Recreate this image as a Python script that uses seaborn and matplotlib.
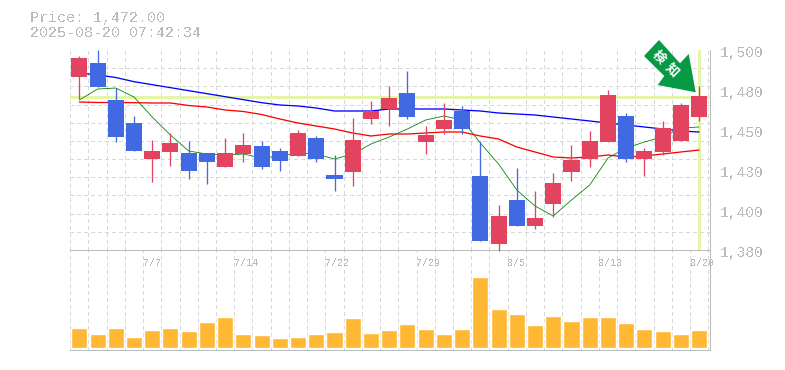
import matplotlib
matplotlib.use("Agg")
import matplotlib.pyplot as plt
import matplotlib.transforms as mtrans
from matplotlib.patches import Polygon
import numpy as np
import pandas as pd
import seaborn as sns

opens = [1483.8,1492.2,1470,1456.2,1434.6,1438.8,1438.2,1438.2,1429.8,1437.6,1442.4,1439.4,1436.4,1447.2,1425,1426.8,1458.6,1464.6,1474.2,1444.8,1452.6,1463.4,1424.4,1383.6,1410,1394.4,1407.6,1426.8,1434.6,1444.8,1460.4,1434.6,1438.8,1445.4,1459.8]
closes = [1495.2,1477.8,1447.8,1439.4,1439.4,1444.2,1427.4,1432.8,1438.2,1443,1429.8,1433.4,1450.2,1434.6,1422.6,1446,1463.4,1471.2,1459.8,1449,1458,1452.6,1385.4,1400.4,1394.4,1399.2,1420.2,1434,1445.4,1473,1434.6,1439.4,1453.2,1467,1472.4]
highs = [1496.4,1500,1477.2,1460.4,1446,1450.2,1445.4,1438.2,1447.2,1450.2,1445.4,1441.2,1452,1448.4,1437,1459.2,1469.4,1478.4,1487.4,1454.4,1468.2,1466.4,1445.4,1407,1429.2,1415.4,1426.2,1443,1451.4,1476,1462.2,1441.2,1457.4,1468.2,1478.4]
lows = [1470.6,1477.8,1444.8,1439.4,1420.8,1430.4,1422.6,1419.6,1429.8,1432.8,1428.6,1427.4,1436.4,1432.8,1415.4,1418.4,1455.6,1454.4,1458.6,1437.6,1449.6,1449.6,1385.4,1379.4,1394.4,1392.6,1399.8,1421.4,1429.8,1444.8,1432.8,1424.4,1437,1445.4,1457.4]
ma_blue = [1486.2,1485,1483.5,1481,1479.2,1477.4,1475.6,1473.8,1472,1470.2,1468.4,1467,1466.4,1465.2,1463.4,1463.4,1463.4,1464.6,1464.6,1464.6,1464.6,1464,1463.4,1462.2,1461.6,1461,1459.8,1458.6,1457.4,1456.2,1455,1453.8,1452.6,1451.4,1450.8]
ma_red = [1468.8,1468.5,1468.5,1468.4,1468.2,1468.2,1466.7,1465.8,1464,1463.1,1461.3,1458.6,1456.2,1454.4,1452.6,1450.2,1448.4,1449.6,1449.6,1450.2,1450.8,1450.8,1448.4,1446.6,1441.8,1438.8,1435.8,1435.2,1435.8,1437,1435.8,1436.4,1437.6,1438.8,1440]
ma_green = [1470,1476.6,1477.2,1471.8,1459.8,1449,1439.4,1437.6,1437,1437.6,1435.2,1436.4,1438.2,1437.6,1434.6,1437.6,1443.6,1447.8,1452.6,1458,1460.4,1458,1444.2,1431.6,1416,1406.4,1400.4,1410,1419,1435.2,1441.2,1444.8,1447.8,1453.2,1453.8]
volume = [20,14,20,11,18,20,17,26,31,14,13,10,11,14,16,30,15,18,24,19,14,19,71,39,34,23,32,27,31,31,25,19,17,14,18]
date_labels = ["7/7","7/14","7/22","7/29","8/5","8/13","8/20"]
date_index = [4,9,14,19,24,29,34]
price_ticks = [1380,1404,1428,1452,1476,1500]
price_labels = ["1,380","1,400","1,430","1,450","1,480","1,500"]
last_price = 1472
title_lines = ["Price: 1,472.00","2025-08-20 07:42:34"]

UP, DOWN = "#e2445f", "#4169e1"
GRID, TEXT, HILITE = "#d8d8d8", "#bbbbbb", "#e4f5a9"
PX = 0.72

sns.set_theme(style="white")
plt.rcParams["font.family"] = ["Liberation Mono", "DejaVu Sans Mono"]

W, H = 785, 370
fig = plt.figure(figsize=(W/100, H/100), dpi=100)
L, R = 70.2, 710.2
ax_v = fig.add_axes([L/W, (H-350)/H, (R-L)/W, 100/H])
ax = fig.add_axes([L/W, (H-250)/H, (R-L)/W, 200/H], zorder=2)
ax.patch.set_alpha(0)

idx = np.arange(len(opens))
xlim = (-0.5, 34.61)
edges = np.arange(-0.5, 35, 1.0)

# volume
dfv = pd.DataFrame({"i": idx, "v": volume})
sns.barplot(data=dfv, x="i", y="v", native_scale=True, color="#ffb833", saturation=1,
            width=0.88, ax=ax_v, zorder=3)
ax_v.set_xlim(*xlim); ax_v.set_ylim(-2, 98)
ax_v.set_xlabel(""); ax_v.set_ylabel("")
ax_v.set_xticks(edges); ax_v.tick_params(length=0, labelbottom=False, labelleft=False)
ax_v.set_yticks([])
ax_v.grid(True, axis="x", color=GRID, lw=1*PX, ls=(0, (3, 3)), zorder=0, antialiased=False)
ax_v.set_axisbelow(True)

# price
ax.set_xlim(*xlim); ax.set_ylim(1380, 1500)
ax.set_xticks(edges, minor=True)
ax.set_yticks(np.linspace(1380, 1500, 12), minor=True)
ax.grid(True, which="minor", color=GRID, lw=1*PX, ls=(0, (3, 3)), zorder=0, antialiased=False)
ax.grid(False, which="major")
ax.set_axisbelow(True)
ax.axhline(last_price, color=HILITE, lw=3*PX, zorder=1)
ax.axvline(idx[-1], color=HILITE, lw=3*PX, zorder=1)

for vals, col, lw in [(ma_blue, "#0000ff", 1.3), (ma_red, "#ff0000", 1.3), (ma_green, "#008000", 0.8)]:
    sns.lineplot(x=idx, y=vals, color=col, lw=lw*PX, ax=ax, zorder=2, legend=False, errorbar=None)

o, c, hi, lo = map(np.array, (opens, closes, highs, lows))
cols = [UP if b >= a else DOWN for a, b in zip(o, c)]
ax.vlines(idx, lo, hi, colors=cols, lw=1.3*PX, zorder=3, clip_on=False)
ax.bar(idx, np.abs(c-o), bottom=np.minimum(o, c), width=0.88, color=cols, zorder=4, lw=0)
ax.set_xlabel(""); ax.set_ylabel("")

ax.set_xticks(np.array(date_index)-0.5, date_labels)
ax.tick_params(axis="x", which="major", length=0, pad=5.5, labelsize=10*PX, labelcolor=TEXT)
for t in ax.get_xticklabels():
    t.set_ha("left"); t.set_antialiased(False)
ax.yaxis.tick_right()
ax.set_yticks(price_ticks, price_labels)
ax.tick_params(axis="y", which="major", length=0, pad=7, labelsize=14.5*PX, labelcolor=TEXT)
ax.tick_params(which="minor", length=0)
shift = mtrans.ScaledTranslation(0, -2/100, fig.dpi_scale_trans)
for t in ax.get_yticklabels():
    t.set_transform(t.get_transform()+shift); t.set_antialiased(False)

for a in (ax, ax_v):
    for s in a.spines.values():
        s.set_visible(False)
    a.spines["bottom"].set_visible(True); a.spines["right"].set_visible(True)
    a.spines["bottom"].set_color(TEXT); a.spines["right"].set_color(TEXT)
    a.spines["bottom"].set_linewidth(1*PX); a.spines["right"].set_linewidth(1*PX)

# overlay in pixel coordinates
ov = fig.add_axes([0, 0, 1, 1], zorder=5)
ov.set_xlim(0, W); ov.set_ylim(H, 0); ov.axis("off")
for line, yy in zip(title_lines, (18, 33)):
    ov.text(30, yy, line, fontsize=15*PX, color=TEXT, va="center", ha="left", antialiased=False)
arrow = [(659,40),(644,56),(664.3,76),(657.7,85),(695.7,92.3),(688.7,54),(680,63.3)]
ov.add_patch(Polygon(arrow, closed=True, color="#069a45", lw=0))
ov.text(659, 57.5, "検", family=["Noto Sans CJK JP"], fontsize=13*PX, weight="bold", color="white",
        rotation=-45, rotation_mode="anchor", ha="center", va="center")
ov.text(672, 70, "知", family=["Noto Sans CJK JP"], fontsize=13*PX, weight="bold", color="white",
        rotation=-45, rotation_mode="anchor", ha="center", va="center")

fig.savefig("out.png", dpi=100)
